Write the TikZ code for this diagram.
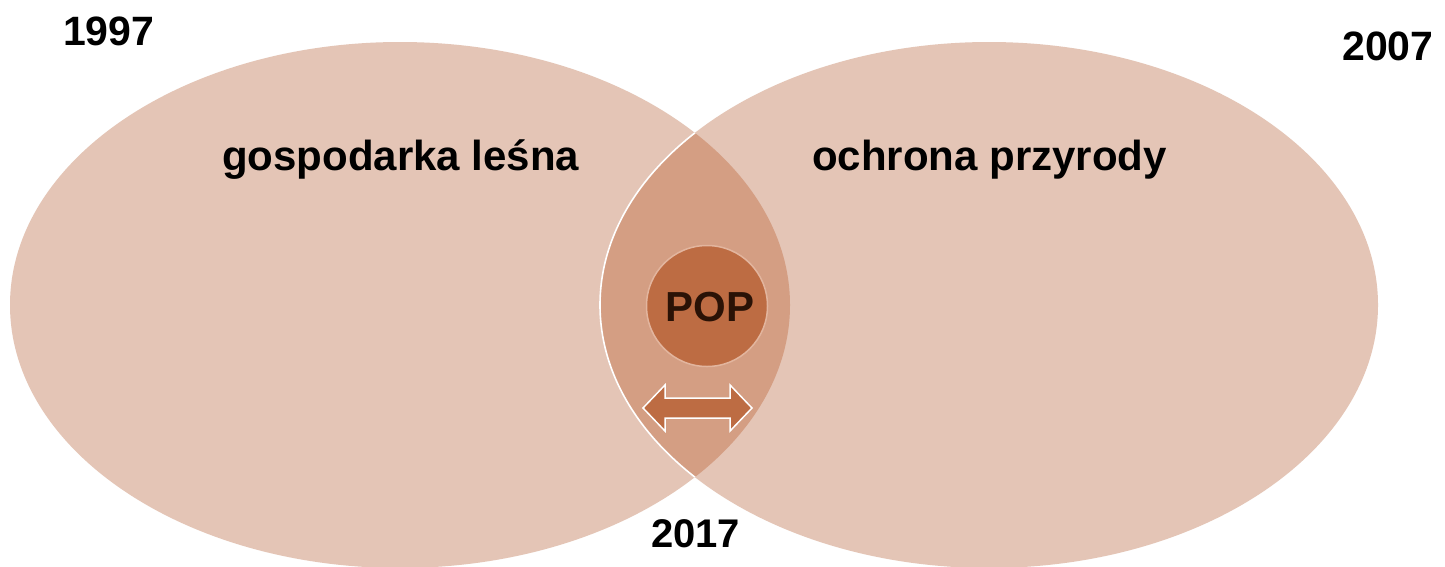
\documentclass[tikz,border=0pt]{standalone}
\usepackage{fontspec}
\setmainfont{Liberation Sans}
\definecolor{ellfill}{HTML}{E4C5B6}
\definecolor{lensfill}{HTML}{D49E83}
\definecolor{popfill}{HTML}{BD6C43}
\definecolor{popring}{HTML}{E2B59E}
\definecolor{poptext}{HTML}{2A1206}
\tikzset{
  lbl/.style={font=\bfseries\fontsize{42}{46}\selectfont, text=black, inner sep=0pt, anchor=base west},
  yearlbl/.style={font=\bfseries\fontsize{41}{45}\selectfont, text=black, inner sep=0pt, anchor=base west},
}
\begin{document}
\begin{tikzpicture}[x=1pt,y=-1pt]
\clip (0,0) rectangle (1445,566);
\fill[white] (0,0) rectangle (1445,566);
% ellipses
\fill[ellfill] (400,305) ellipse [x radius=390, y radius=263];
\fill[ellfill] (989,305) ellipse [x radius=389, y radius=263];
% lens
\begin{scope}
  \clip (400,305) ellipse [x radius=390, y radius=263];
  \fill[lensfill] (989,305) ellipse [x radius=389, y radius=263];
  \draw[white, line width=1.6pt] (989,305) ellipse [x radius=389, y radius=263];
\end{scope}
% central circle
\node[circle, minimum size=121pt, fill=popfill, draw=popring, line width=1.5pt, inner sep=0pt] (pop) at (707,306) {};
\node[font=\bfseries\fontsize{42}{46}\selectfont, text=poptext, inner sep=0pt, anchor=base] (poplbl) at (710,321) {POP};
% double arrow
\fill[popfill, draw=white, line width=1.5pt, line join=miter]
  (643,408) -- (665,385) -- (665,398) -- (730,398) -- (730,385) -- (752,408)
  -- (730,431) -- (730,418) -- (665,418) -- (665,431) -- cycle;
% labels
\node[lbl] (gl) at (222,170) {gospodarka leśna};
\node[lbl] (op) at (812,170) {ochrona przyrody};
\node[yearlbl] (y1997) at (63,45) {1997};
\node[yearlbl] (y2007) at (1342,60) {2007};
\node[font=\bfseries\fontsize{40}{44}\selectfont, inner sep=0pt, anchor=base west] (y2017) at (651,547) {2017};
\end{tikzpicture}
\end{document}
